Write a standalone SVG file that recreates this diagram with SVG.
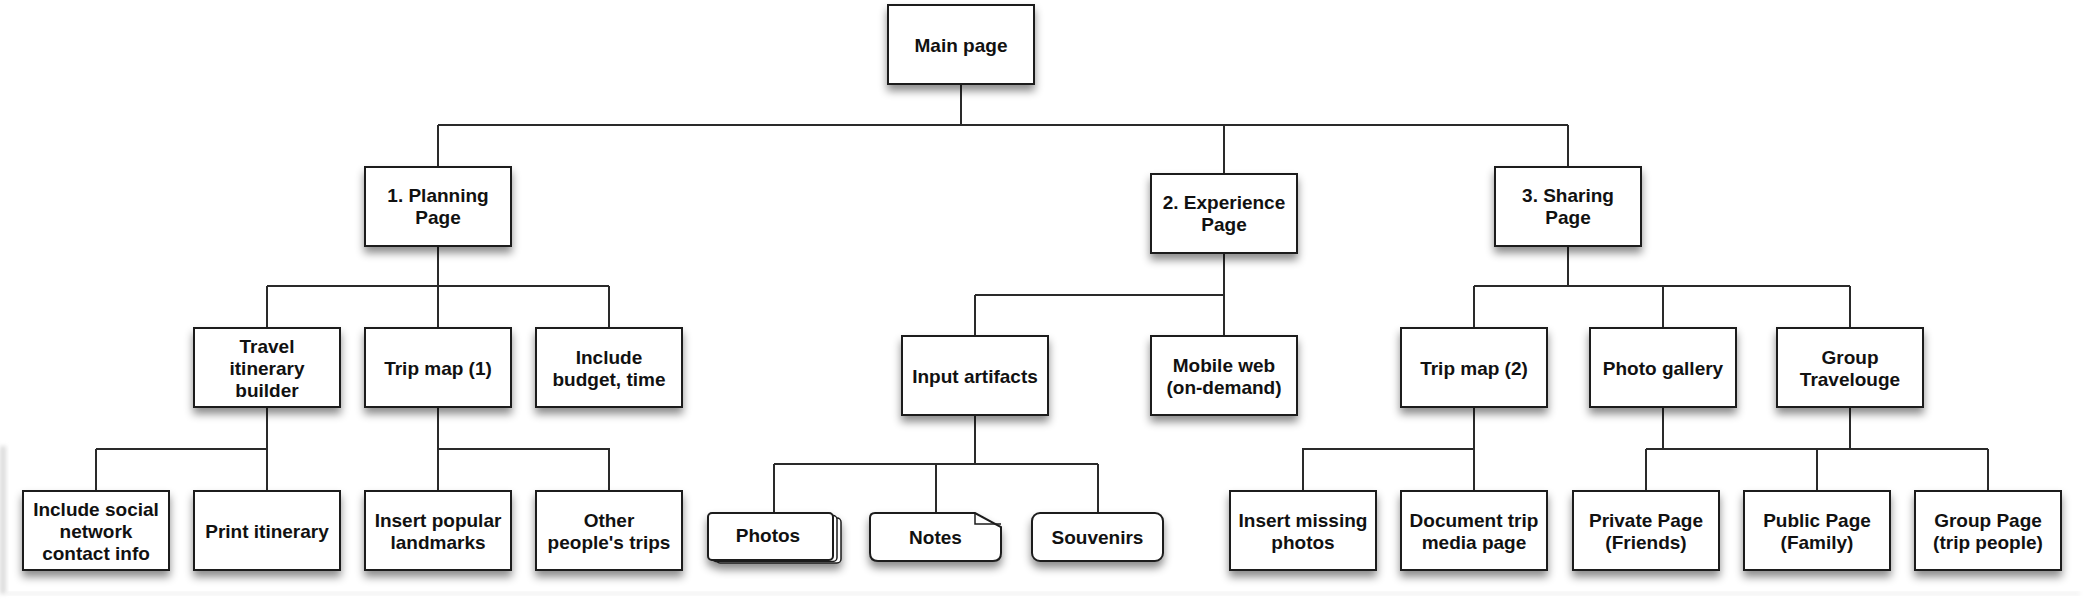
<svg xmlns="http://www.w3.org/2000/svg" width="2092" height="608" viewBox="0 0 2092 608">
<defs>
<filter id="sh" x="-20%" y="-20%" width="140%" height="160%">
<feDropShadow dx="0" dy="6" stdDeviation="4" flood-color="#000" flood-opacity="0.45"/>
</filter>
<filter id="soft" x="-50%" y="-10%" width="200%" height="120%">
<feGaussianBlur stdDeviation="2"/>
</filter>
<style>
.box{fill:#fff;stroke:#1c1c1c;stroke-width:2;filter:url(#sh)}
.t{font-family:"Liberation Sans",Arial,sans-serif;font-weight:bold;font-size:19px;fill:#111;text-anchor:middle}
.c{fill:none;stroke:#2a2a2a;stroke-width:2}
</style>
</defs>
<rect width="2092" height="608" fill="#fff"/>
<g id="frame">
<rect x="0" y="446" width="6" height="148" fill="#dcdcdc" filter="url(#soft)"/>
<rect x="6" y="592" width="2074" height="3" fill="#eeeeee" filter="url(#soft)"/>
</g>
<g id="connectors" class="c">
<path d="M961 84V125M438 125H1568M438 125V167M1224 125V174M1568 125V167"/>
<path d="M438 246V286M267 286H609M267 286V328M438 286V328M609 286V328"/>
<path d="M1224 253V295M975 295H1224M975 295V336M1224 295V336"/>
<path d="M1568 246V286M1474 286H1850M1474 286V328M1663 286V328M1850 286V328"/>
<path d="M267 407V449M96 449H267M96 449V491M267 449V491"/>
<path d="M438 407V449H609V491M438 449V491"/>
<path d="M975 415V464M774 464H1098M774 464V513M936 464V513M1098 464V513"/>
<path d="M1474 407V449H1303V491M1474 449V491"/>
<path d="M1663 407V449M1850 407V449M1646 449H1988M1646 449V491M1817 449V491M1988 449V491"/>
</g>
<g id="main"><rect class="box" x="888" y="5" width="146" height="79"/><text class="t" x="961" y="51.5">Main page</text></g>
<g id="planning"><rect class="box" x="365" y="167" width="146" height="79"/><text class="t" x="438" y="202">1. Planning</text><text class="t" x="438" y="224">Page</text></g>
<g id="experience"><rect class="box" x="1151" y="174" width="146" height="79"/><text class="t" x="1224" y="209">2. Experience</text><text class="t" x="1224" y="231">Page</text></g>
<g id="sharing"><rect class="box" x="1495" y="167" width="146" height="79"/><text class="t" x="1568" y="202">3. Sharing</text><text class="t" x="1568" y="224">Page</text></g>
<g id="travel"><rect class="box" x="194" y="328" width="146" height="79"/><text class="t" x="267" y="352.5">Travel</text><text class="t" x="267" y="374.5">itinerary</text><text class="t" x="267" y="396.5">builder</text></g>
<g id="tripmap1"><rect class="box" x="365" y="328" width="146" height="79"/><text class="t" x="438" y="374.5">Trip map (1)</text></g>
<g id="budget"><rect class="box" x="536" y="328" width="146" height="79"/><text class="t" x="609" y="363.5">Include</text><text class="t" x="609" y="385.5">budget, time</text></g>
<g id="inputartifacts"><rect class="box" x="902" y="336" width="146" height="79"/><text class="t" x="975" y="382.5">Input artifacts</text></g>
<g id="mobileweb"><rect class="box" x="1151" y="336" width="146" height="79"/><text class="t" x="1224" y="371.5">Mobile web</text><text class="t" x="1224" y="393.5">(on-demand)</text></g>
<g id="tripmap2"><rect class="box" x="1401" y="328" width="146" height="79"/><text class="t" x="1474" y="374.5">Trip map (2)</text></g>
<g id="photogallery"><rect class="box" x="1590" y="328" width="146" height="79"/><text class="t" x="1663" y="374.5">Photo gallery</text></g>
<g id="grouptravelouge"><rect class="box" x="1777" y="328" width="146" height="79"/><text class="t" x="1850" y="363.5">Group</text><text class="t" x="1850" y="385.5">Travelouge</text></g>
<g id="social"><rect class="box" x="23" y="491" width="146" height="79"/><text class="t" x="96" y="515.5">Include social</text><text class="t" x="96" y="537.5">network</text><text class="t" x="96" y="559.5">contact info</text></g>
<g id="print"><rect class="box" x="194" y="491" width="146" height="79"/><text class="t" x="267" y="537.5">Print itinerary</text></g>
<g id="insertpopular"><rect class="box" x="365" y="491" width="146" height="79"/><text class="t" x="438" y="526.5">Insert popular</text><text class="t" x="438" y="548.5">landmarks</text></g>
<g id="otherpeople"><rect class="box" x="536" y="491" width="146" height="79"/><text class="t" x="609" y="526.5">Other</text><text class="t" x="609" y="548.5">people's trips</text></g>
<g id="photos">
<g filter="url(#sh)">
<rect x="716" y="518" width="125" height="45" rx="4" fill="#fff" stroke="#1c1c1c" stroke-width="1.5"/>
<rect x="712" y="515.5" width="125" height="46" rx="4" fill="#fff" stroke="#1c1c1c" stroke-width="1.5"/>
<rect x="708" y="513" width="125" height="47" rx="4" fill="#fff" stroke="#1c1c1c" stroke-width="2"/>
</g>
<text class="t" x="768" y="542">Photos</text></g>
<g id="notes">
<path class="box" d="M875 513H975L1001 527V553Q1001 561 993 561H878Q870 561 870 553V518Q870 513 875 513Z"/>
<path d="M975 513V524H1001" fill="none" stroke="#1c1c1c" stroke-width="1.5"/>
<text class="t" x="935.5" y="544">Notes</text></g>
<g id="souvenirs"><rect class="box" x="1032" y="513" width="131" height="48" rx="8"/><text class="t" x="1097.5" y="544">Souvenirs</text></g>
<g id="insertmissing"><rect class="box" x="1230" y="491" width="146" height="79"/><text class="t" x="1303" y="526.5">Insert missing</text><text class="t" x="1303" y="548.5">photos</text></g>
<g id="documenttrip"><rect class="box" x="1401" y="491" width="146" height="79"/><text class="t" x="1474" y="526.5">Document trip</text><text class="t" x="1474" y="548.5">media page</text></g>
<g id="privatepage"><rect class="box" x="1573" y="491" width="146" height="79"/><text class="t" x="1646" y="526.5">Private Page</text><text class="t" x="1646" y="548.5">(Friends)</text></g>
<g id="publicpage"><rect class="box" x="1744" y="491" width="146" height="79"/><text class="t" x="1817" y="526.5">Public Page</text><text class="t" x="1817" y="548.5">(Family)</text></g>
<g id="grouppage"><rect class="box" x="1915" y="491" width="146" height="79"/><text class="t" x="1988" y="526.5">Group Page</text><text class="t" x="1988" y="548.5">(trip people)</text></g>
</svg>
